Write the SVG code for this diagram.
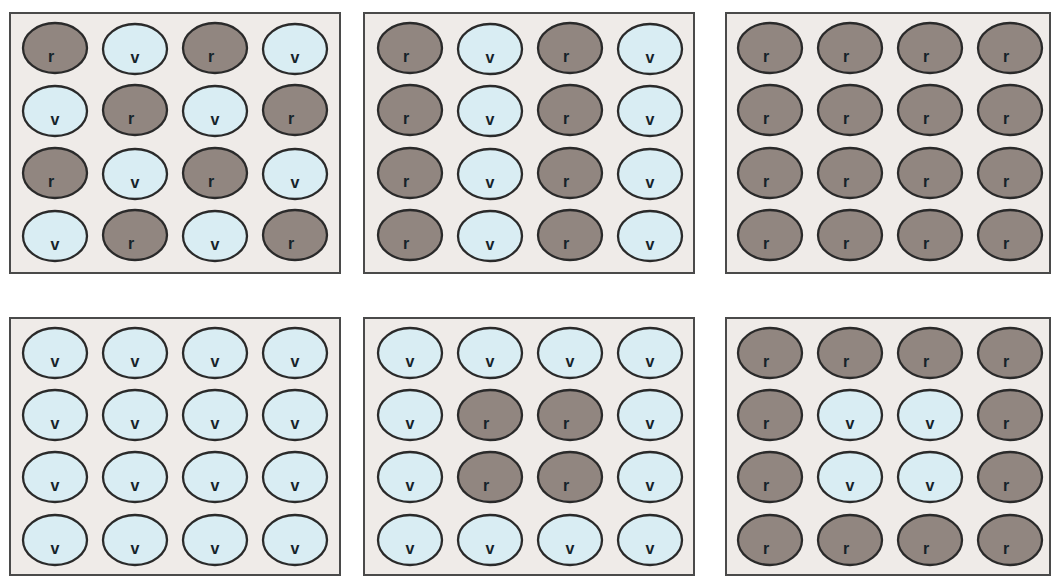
<svg xmlns="http://www.w3.org/2000/svg" width="1052" height="577" viewBox="0 0 1052 577">
<style>
.panel{fill:#efebe8;stroke:#4a4a4a;stroke-width:2}
.b{fill:#918680;stroke:#2a2a2a;stroke-width:2.3}
.l{fill:#d9edf3;stroke:#2a2a2a;stroke-width:2.3}
.t{font-family:"Liberation Sans",Arial,sans-serif;font-weight:bold;font-size:16px;text-anchor:middle;fill:#16232a}
</style>
<defs>
<g id="B"><ellipse class="b" cx="0" cy="0" rx="32" ry="25"/><text class="t" x="-4" y="14">r</text></g>
<g id="L"><ellipse class="l" cx="0" cy="0" rx="32" ry="25"/><text class="t" x="0" y="14">v</text></g>
</defs>
<rect width="1052" height="577" fill="#ffffff"/>
<g id="panel1">
<rect class="panel" x="10" y="13" width="330" height="260"/>
<use href="#B" x="55" y="48"/><use href="#L" x="135" y="49"/><use href="#B" x="215" y="48"/><use href="#L" x="295" y="49"/>
<use href="#L" x="55" y="111"/><use href="#B" x="135" y="110"/><use href="#L" x="215" y="111"/><use href="#B" x="295" y="110"/>
<use href="#B" x="55" y="173"/><use href="#L" x="135" y="174"/><use href="#B" x="215" y="173"/><use href="#L" x="295" y="174"/>
<use href="#L" x="55" y="236"/><use href="#B" x="135" y="235"/><use href="#L" x="215" y="236"/><use href="#B" x="295" y="235"/>
</g>
<g id="panel2">
<rect class="panel" x="364" y="13" width="330" height="260"/>
<use href="#B" x="410" y="48"/><use href="#L" x="490" y="49"/><use href="#B" x="570" y="48"/><use href="#L" x="650" y="49"/>
<use href="#B" x="410" y="110"/><use href="#L" x="490" y="111"/><use href="#B" x="570" y="110"/><use href="#L" x="650" y="111"/>
<use href="#B" x="410" y="173"/><use href="#L" x="490" y="174"/><use href="#B" x="570" y="173"/><use href="#L" x="650" y="174"/>
<use href="#B" x="410" y="235"/><use href="#L" x="490" y="236"/><use href="#B" x="570" y="235"/><use href="#L" x="650" y="236"/>
</g>
<g id="panel3">
<rect class="panel" x="726" y="13" width="324" height="260"/>
<use href="#B" x="770" y="48"/><use href="#B" x="850" y="48"/><use href="#B" x="930" y="48"/><use href="#B" x="1010" y="48"/>
<use href="#B" x="770" y="110"/><use href="#B" x="850" y="110"/><use href="#B" x="930" y="110"/><use href="#B" x="1010" y="110"/>
<use href="#B" x="770" y="173"/><use href="#B" x="850" y="173"/><use href="#B" x="930" y="173"/><use href="#B" x="1010" y="173"/>
<use href="#B" x="770" y="235"/><use href="#B" x="850" y="235"/><use href="#B" x="930" y="235"/><use href="#B" x="1010" y="235"/>
</g>
<g id="panel4">
<rect class="panel" x="10" y="318" width="330" height="257"/>
<use href="#L" x="55" y="353"/><use href="#L" x="135" y="353"/><use href="#L" x="215" y="353"/><use href="#L" x="295" y="353"/>
<use href="#L" x="55" y="415"/><use href="#L" x="135" y="415"/><use href="#L" x="215" y="415"/><use href="#L" x="295" y="415"/>
<use href="#L" x="55" y="477"/><use href="#L" x="135" y="477"/><use href="#L" x="215" y="477"/><use href="#L" x="295" y="477"/>
<use href="#L" x="55" y="540"/><use href="#L" x="135" y="540"/><use href="#L" x="215" y="540"/><use href="#L" x="295" y="540"/>
</g>
<g id="panel5">
<rect class="panel" x="364" y="318" width="330" height="257"/>
<use href="#L" x="410" y="353"/><use href="#L" x="490" y="353"/><use href="#L" x="570" y="353"/><use href="#L" x="650" y="353"/>
<use href="#L" x="410" y="415"/><use href="#B" x="490" y="415"/><use href="#B" x="570" y="415"/><use href="#L" x="650" y="415"/>
<use href="#L" x="410" y="477"/><use href="#B" x="490" y="477"/><use href="#B" x="570" y="477"/><use href="#L" x="650" y="477"/>
<use href="#L" x="410" y="540"/><use href="#L" x="490" y="540"/><use href="#L" x="570" y="540"/><use href="#L" x="650" y="540"/>
</g>
<g id="panel6">
<rect class="panel" x="726" y="318" width="324" height="257"/>
<use href="#B" x="770" y="353"/><use href="#B" x="850" y="353"/><use href="#B" x="930" y="353"/><use href="#B" x="1010" y="353"/>
<use href="#B" x="770" y="415"/><use href="#L" x="850" y="415"/><use href="#L" x="930" y="415"/><use href="#B" x="1010" y="415"/>
<use href="#B" x="770" y="477"/><use href="#L" x="850" y="477"/><use href="#L" x="930" y="477"/><use href="#B" x="1010" y="477"/>
<use href="#B" x="770" y="540"/><use href="#B" x="850" y="540"/><use href="#B" x="930" y="540"/><use href="#B" x="1010" y="540"/>
</g>
<g id="connectors"/>
</svg>
